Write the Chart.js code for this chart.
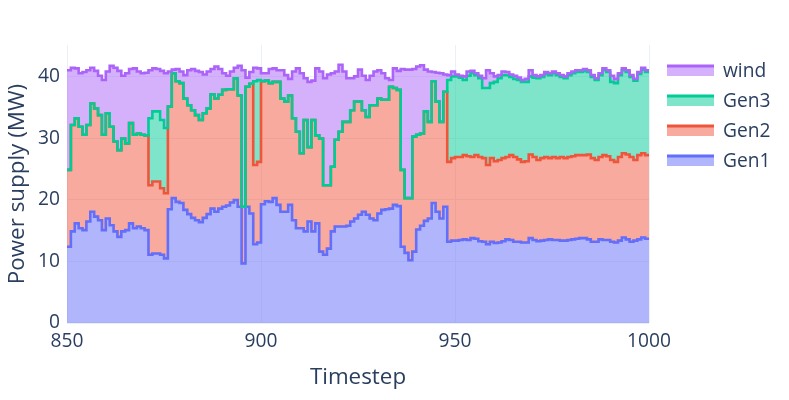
<!DOCTYPE html>
<html>
<head>
<meta charset="utf-8">
<script src="https://cdn.jsdelivr.net/npm/chart.js@4.4.1/dist/chart.umd.min.js"></script>
<style>
html,body{margin:0;padding:0;background:#ffffff;}
canvas{display:block;}
</style>
</head>
<body>
<canvas id="chart" width="789" height="400"></canvas>
<script>
const timesteps = [
850,851,852,853,854,855,856,857,858,859,
860,861,862,863,864,865,866,867,868,869,
870,871,872,873,874,875,876,877,878,879,
880,881,882,883,884,885,886,887,888,889,
890,891,892,893,894,895,896,897,898,899,
900,901,902,903,904,905,906,907,908,909,
910,911,912,913,914,915,916,917,918,919,
920,921,922,923,924,925,926,927,928,929,
930,931,932,933,934,935,936,937,938,939,
940,941,942,943,944,945,946,947,948,949,
950,951,952,953,954,955,956,957,958,959,
960,961,962,963,964,965,966,967,968,969,
970,971,972,973,974,975,976,977,978,979,
980,981,982,983,984,985,986,987,988,989,
990,991,992,993,994,995,996,997,998,999,
1000];

const gen1 = [
12.4,14.9,16.2,15.4,15.1,16.5,18.1,17.3,16.7,15.1,
17.0,15.9,14.9,14.0,14.9,15.1,16.2,15.4,15.7,15.4,
15.1,11.1,11.3,11.3,11.1,10.5,18.5,20.3,19.7,19.5,
18.4,17.7,17.1,16.7,16.4,17.1,17.7,18.6,18.1,18.6,
18.9,19.1,19.6,20.0,18.9,9.7,18.9,17.8,12.8,13.1,
19.3,19.8,19.7,20.3,19.2,18.1,18.1,19.2,16.7,15.4,
15.4,14.9,16.5,14.9,16.2,11.6,11.1,12.1,14.9,15.7,
15.7,15.7,15.8,16.5,17.0,17.6,18.1,17.6,17.0,16.7,
17.8,18.4,18.5,18.6,19.2,19.0,12.4,11.4,10.2,11.6,
15.2,15.8,16.6,17.0,19.5,18.1,17.0,18.9,13.2,13.4,
13.4,13.5,13.6,13.5,13.8,13.7,13.3,13.2,12.8,13.2,
13.0,13.1,13.3,13.6,13.5,13.2,13.2,13.1,13.1,13.8,
13.5,13.3,13.4,13.5,13.6,13.5,13.5,13.4,13.4,13.5,
13.6,13.7,13.8,13.8,13.6,13.2,13.2,13.6,13.5,13.5,
13.2,13.1,13.4,13.9,13.6,13.2,13.4,13.6,13.9,13.7,
13.7];

const gen2 = [
12.5,17.3,17.1,16.5,15.5,15.7,17.6,17.6,17.1,15.5,
17.1,16.0,14.6,14.1,15.1,14.1,16.3,15.2,15.1,15.2,
15.4,11.3,11.7,11.7,10.8,10.6,16.7,20.3,19.6,19.5,
18.1,17.7,17.5,17.1,16.6,17.0,17.2,18.6,18.4,18.5,
19.0,18.9,18.4,19.8,18.1,9.2,19.5,21.1,12.9,13.1,
20.0,19.6,19.3,18.9,20.0,18.4,17.9,17.8,16.6,15.7,
12.2,18.1,12.1,18.1,14.3,18.4,11.3,10.3,10.5,14.1,
15.4,17.0,16.9,18.1,19.0,18.4,16.5,15.9,18.4,18.7,
18.7,17.9,17.8,19.8,19.0,18.9,12.5,8.9,10.1,18.7,
15.4,15.0,17.8,15.7,19.8,17.9,15.7,18.7,13.0,13.4,
13.6,13.5,13.7,13.6,13.2,13.6,13.7,13.6,12.9,13.6,
13.3,13.4,13.5,13.4,13.8,13.8,13.4,13.1,13.2,13.6,
13.5,13.2,13.4,13.5,13.2,13.5,13.3,13.6,13.4,13.5,
13.5,13.6,13.5,13.5,13.8,13.6,13.3,13.4,13.8,13.6,
13.3,13.1,13.6,13.7,13.8,13.8,13.1,13.7,13.7,13.6,
13.6];

const gen3 = [
0,0,0,0,0,0,0,0,0,0,
0,0,0,0,0,0,0,0,0,0,
0,10.9,11.4,11.4,11.1,10.6,0,0,0,0,
0,0,0,0,0,0,0,0,0,0,
0,0,0,0,0,0,0,0,13.6,13.3,
0,0,0,0,0,0,0,0,0,0,
0,0,0,0,0,0,0,0,0,0,
0,0,0,0,0,0,0,0,0,0,
0,0,0,0,0,0,0,0,0,0,
0,0,0,0,0,0,0,0,13.3,13.3,
13.1,12.9,12.2,13.1,13.6,13.0,12.8,11.4,12.5,12.2,
12.9,13.3,13.5,13.3,12.7,12.7,12.9,13.0,12.9,12.7,
12.9,13.3,13.2,13.5,13.5,13.6,13.5,13.0,13.0,13.3,
13.5,13.5,13.5,13.7,13.4,13.2,13.0,13.3,13.8,13.7,
12.7,12.8,13.3,13.5,13.4,13.0,12.9,13.2,13.6,13.5,
13.5];

const wind = [
16.2,9.3,8.1,8.7,10.2,8.9,5.8,6.1,6.4,8.9,
6.8,9.9,12.0,12.9,10.2,11.4,8.8,10.8,10.1,10.0,
10.2,7.8,7.0,6.9,8.0,8.9,5.7,0.6,2.0,1.9,
3.8,5.7,6.7,7.2,7.8,6.3,6.0,4.1,5.2,4.2,
2.7,2.2,2.9,1.7,4.8,22.2,1.5,1.9,2.2,1.9,
1.3,1.2,2.3,2.2,1.9,4.6,4.3,2.7,7.6,10.3,
13.0,6.8,10.6,6.4,10.9,10.9,17.4,18.0,15.2,11.1,
10.9,8.2,7.1,5.2,4.1,5.2,5.6,6.0,4.8,5.5,
4.6,4.3,3.5,1.1,3.2,3.1,16.4,20.9,20.9,11.0,
11.1,11.1,6.8,8.2,1.5,4.7,7.9,2.8,0.8,0.8,
0.3,0.3,0.6,0.7,0.4,0.3,0.4,1.6,2.9,1.6,
0.9,0.5,0.6,0.5,0.4,0.5,0.4,0.3,0.5,1.0,
0.4,0.3,0.3,0.3,0.3,0.3,0.3,0.3,0.3,0.3,
0.3,0.3,0.3,0.3,0.3,0.3,0.3,0.3,0.3,0.3,
1.0,0.7,0.3,0.3,0.3,0.3,0.3,0.3,0.3,0.3,
0.3];

const seriesNames = ['Gen1', 'Gen2', 'Gen3', 'wind'];
const xTickValues = [850, 900, 950, 1000];
const yTickValues = [0, 10, 20, 30, 40];

const lineColors = ['#636efa', '#EF553B', '#00cc96', '#ab63fa'];
const fillColors = ['rgba(99,110,250,0.5)', 'rgba(239,85,59,0.5)', 'rgba(0,204,150,0.5)', 'rgba(171,99,250,0.5)'];
const FONT = '"Open Sans", verdana, arial, sans-serif';
const TEXT = '#2a3f5f';

// stacked (cumulative) tops, built from the series arrays
const series = [gen1, gen2, gen3, wind];
let running = timesteps.map(() => 0);
const datasets = series.map((s, k) => {
  running = running.map((v, i) => v + s[i]);
  return {
    label: seriesNames[k],
    data: timesteps.map((t, i) => ({ x: t, y: running[i] })),
    borderColor: lineColors[k],
    backgroundColor: fillColors[k],
    borderWidth: 2.6,
    fill: k === 0 ? 'origin' : '-1',
    stepped: 'before',
    pointRadius: 0,
    pointHoverRadius: 0,
    order: 3 - k
  };
});

const legendPlugin = {
  id: 'plotlyLegend',
  afterDraw(chart) {
    const ctx = chart.ctx;
    const itemsTopDown = [3, 2, 1, 0];
    ctx.save();
    itemsTopDown.forEach((k, j) => {
      const y = 66 + j * 30;
      ctx.fillStyle = fillColors[k];
      ctx.fillRect(667, y, 47, 10);
      ctx.strokeStyle = lineColors[k];
      ctx.lineWidth = 3;
      ctx.beginPath();
      ctx.moveTo(667, y);
      ctx.lineTo(714, y);
      ctx.stroke();
      ctx.fillStyle = TEXT;
      ctx.font = '19.2px ' + FONT;
      ctx.textBaseline = 'middle';
      ctx.textAlign = 'left';
      ctx.fillText(chart.data.datasets[k].label, 723, y + 6);
    });
    ctx.restore();
  }
};

new Chart(document.getElementById('chart'), {
  type: 'line',
  data: { datasets },
  plugins: [legendPlugin],
  options: {
    responsive: false,
    animation: false,
    events: [],
    layout: { padding: { left: 0, right: 140, top: 45, bottom: 0 } },
    plugins: {
      legend: { display: false },
      tooltip: { enabled: false },
      filler: { drawTime: 'beforeDatasetsDraw', propagate: false }
    },
    scales: {
      x: {
        type: 'linear',
        min: 850,
        max: 1000,
        afterFit(s) { s.height = 77; },
        afterBuildTicks(s) { s.ticks = xTickValues.map(v => ({ value: v })); },
        grid: { color: '#EBF0F8', lineWidth: 1, drawTicks: false },
        border: { display: false },
        ticks: { color: TEXT, font: { family: FONT, size: 19.2 }, padding: 7, maxRotation: 0, autoSkip: false, callback: (v) => String(v) },
        title: { display: true, text: 'Timestep', color: TEXT, font: { family: FONT, size: 22.4 }, padding: { top: 0, bottom: 9 } }
      },
      y: {
        type: 'linear',
        min: 0,
        max: 45.2,
        afterFit(s) { s.width = 67; },
        afterBuildTicks(s) { s.ticks = yTickValues.map(v => ({ value: v })); },
        grid: { color: '#EBF0F8', lineWidth: (c) => (c.tick && c.tick.value === 0 ? 2 : 1), drawTicks: false },
        border: { display: false },
        ticks: { color: TEXT, font: { family: FONT, size: 19.2 }, padding: 7, callback: (v) => String(v) },
        title: { display: true, text: 'Power supply (MW)', color: TEXT, font: { family: FONT, size: 22.4 }, padding: { top: 4, bottom: 0 } }
      }
    }
  }
});
</script>
</body>
</html>
